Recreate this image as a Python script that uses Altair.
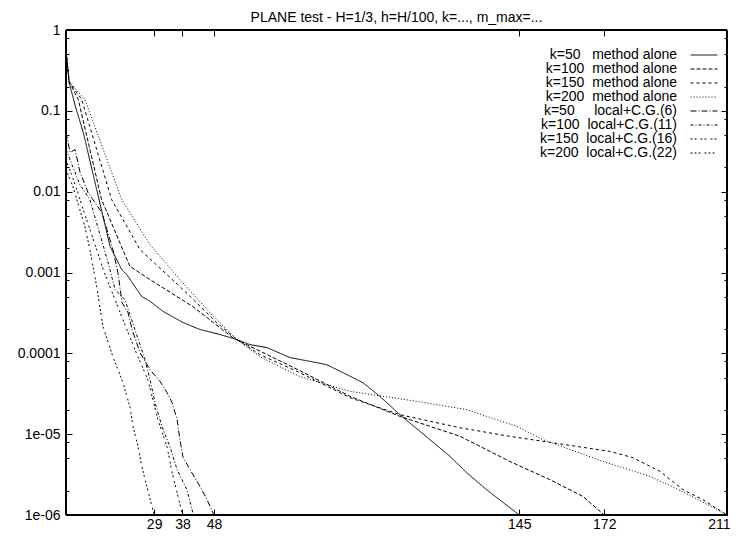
import altair as alt
import pandas as pd

TITLE = "PLANE test - H=1/3, h=H/100, k=..., m_max=..."
FONT = "Liberation Sans"

# axis ranges and ticks
x_domain = [1, 211]
y_domain = [1e-6, 1.0]
x_ticks = [29, 38, 48, 145, 172, 211]
y_ticks = [1e-6, 1e-5, 1e-4, 1e-3, 1e-2, 1e-1, 1.0]
y_tick_labels = ["1e-06", "1e-05", "0.0001", "0.001", "0.01", "0.1", "1"]
y_minor = [m * 10.0 ** e for e in range(-6, 0) for m in (2, 5, 8)]

series_labels = [
    "k=50\u00a0\u00a0\u00a0method alone",
    "k=100\u00a0\u00a0method alone",
    "k=150\u00a0\u00a0method alone",
    "k=200\u00a0\u00a0method alone",
    "k=50\u00a0\u00a0\u00a0\u00a0\u00a0local+C.G.(6)",
    "k=100\u00a0\u00a0local+C.G.(11)",
    "k=150\u00a0\u00a0local+C.G.(16)",
    "k=200\u00a0\u00a0local+C.G.(22)",
]
dash_styles = [[1, 0], [4, 2], [3, 3], [1, 2], [6, 2, 1, 2], [3, 2, 1, 2], [2, 2, 2, 4], [2, 2, 2, 2, 2, 4]]

# k=50 method alone
m50_x = [1, 2, 4, 6.5, 10.75, 15, 18.7, 20.3, 25, 27.7, 31.8, 38.2, 43.6, 49.9, 55.2, 59.5, 64.8,
         72.2, 78.5, 83.8, 89, 95.3, 100.7, 107.1, 113.5, 123, 128.3, 134.6, 145]
m50_y = [0.55, 0.224, 0.113, 0.0539, 0.0106, 0.00211, 1.086e-3, 9.42e-4, 5.08e-4, 4.40e-4, 3.31e-4,
         2.40e-4, 1.97e-4, 1.71e-4, 1.48e-4, 1.28e-4, 1.18e-4, 8.85e-5, 7.96e-5, 7.25e-5, 5.77e-5,
         4.34e-5, 2.94e-5, 1.74e-5, 1.08e-5, 5.31e-6, 3.34e-6, 2.06e-6, 1.0e-6]

# k=100 method alone
m100_x = [1, 2, 4.9, 12.3, 21.3, 27.7, 41.3, 54, 59.5, 75.3, 91.2, 107.1, 126.2, 142, 154.7, 165.2, 172]
m100_y = [0.55, 0.23, 0.138, 0.00798, 1.19e-3, 8.17e-4, 3.79e-4, 1.56e-4, 1.22e-4, 6.11e-5, 2.94e-5,
          1.66e-5, 9.4e-6, 4.6e-6, 2.74e-6, 1.70e-6, 1.0e-6]

# k=150 method alone
m150_x = [1, 2, 6, 15.5, 24.5, 38.2, 48.9, 55.3, 62.6, 75.3, 91.2, 107.1, 126.2, 142, 154.7, 173.8,
          181.1, 189.7, 197, 203.3, 211]
m150_y = [0.55, 0.23, 0.138, 0.00798, 1.92e-3, 6.14e-4, 2.40e-4, 1.48e-4, 9.64e-5, 5.77e-5, 2.83e-5,
          1.74e-5, 1.20e-5, 9.4e-6, 7.92e-6, 6.12e-6, 5.12e-6, 3.47e-6, 2.06e-6, 1.55e-6, 1.0e-6]

# k=200 method alone
m200_x = [1, 2, 7, 18.7, 27.7, 37.2, 46.7, 55.3, 62.6, 75.3, 91.2, 112.4, 128.3, 144.2, 152.5,
          171.6, 186.5, 197, 209.7, 211]
m200_y = [0.58, 0.23, 0.138, 0.00798, 2.21e-3, 8.17e-4, 3.19e-4, 1.48e-4, 9.1e-5, 5.15e-5, 3.39e-5,
          2.55e-5, 2.01e-5, 1.25e-5, 8.55e-6, 4.6e-6, 3.01e-6, 1.94e-6, 1.07e-6, 1.0e-6]

# k=50 local+C.G.(6)
l50_x = [1, 2.3, 3.9, 5.4, 8, 10.2, 12.4, 14, 15.9, 17.5, 18.8, 20.7, 22, 24.5, 27.7, 30.9, 33.1,
         34.7, 36.3, 37.2, 38.2, 40.4, 43.6, 45.8, 48]
l50_y = [0.0539, 0.0305, 0.0332, 0.0177, 0.00975, 0.00733, 0.00551, 0.0034, 0.00192, 9.98e-4,
         4.24e-4, 3.19e-4, 1.97e-4, 1.02e-4, 6.29e-5, 4.47e-5, 3.27e-5, 2.45e-5, 1.51e-5, 8.55e-6,
         5.12e-6, 3.64e-6, 2.24e-6, 1.55e-6, 1.0e-6]

# k=100 local+C.G.(11)
l100_x = [1, 2.9, 5.4, 8.6, 11.8, 14.3, 16.6, 19.7, 22.9, 26.1, 27.7, 29.3, 31.5, 34, 36.3, 39.4, 41.5]
l100_y = [0.0332, 0.0216, 0.01225, 0.00798, 0.00294, 1.36e-3, 6.14e-4, 4.62e-4, 1.97e-4, 8.36e-5,
          4.73e-5, 2.45e-5, 1.24e-5, 7.0e-6, 3.64e-6, 2.06e-6, 1.0e-6]

# k=150 local+C.G.(16)
l150_x = [1, 3.9, 7, 10.2, 13.4, 16.6, 19.7, 22.9, 27, 28.6, 30.2, 33.1, 34.7, 36.3, 38]
l150_y = [0.0250, 0.01225, 0.00521, 0.00221, 9.42e-4, 4.62e-4, 2.27e-4, 1.11e-4, 4.73e-5, 2.67e-5,
          1.51e-5, 7.0e-6, 3.34e-6, 1.89e-6, 1.0e-6]

# k=200 local+C.G.(22)
l200_x = [1, 3.2, 7, 8.6, 10.75, 12.75, 15.9, 19.1, 21.3, 22.3, 23.9, 25.1, 26.7, 29]
l200_y = [0.0188, 0.01156, 0.0037, 0.00192, 6.7e-4, 2.14e-4, 9.1e-5, 4.34e-5, 2.19e-5, 1.24e-5,
          7.0e-6, 3.96e-6, 2.24e-6, 1.0e-6]

all_x = [m50_x, m100_x, m150_x, m200_x, l50_x, l100_x, l150_x, l200_x]
all_y = [m50_y, m100_y, m150_y, m200_y, l50_y, l100_y, l150_y, l200_y]

rows = []
for name, xs, ys in zip(series_labels, all_x, all_y):
    for xv, yv in zip(xs, ys):
        rows.append({"series": name, "x": xv, "y": yv})
df = pd.DataFrame(rows)

# one point per series: only feeds the legend of line samples (draws nothing)
key_df = pd.DataFrame({"series": series_labels, "x": [xs[-1] for xs in all_x],
                       "y": [ys[-1] for ys in all_y]})

W, H = 661, 485
xscale = alt.Scale(domain=x_domain, nice=False, zero=False)
yscale = alt.Scale(type="log", domain=y_domain, nice=False)
dash_scale = alt.Scale(domain=series_labels, range=dash_styles)

label_expr = ""
for v, lab in zip(y_ticks, y_tick_labels):
    label_expr += f"datum.value < {v * 1.5:g} ? '{lab}' : "
label_expr += "''"

common_legend = dict(title=None, orient="none", symbolType="stroke", symbolSize=729,
                     symbolStrokeWidth=1, symbolStrokeColor="black", labelAlign="right",
                     labelFontSize=14, labelFont=FONT, labelLimit=500, rowPadding=0,
                     clipHeight=14, padding=0)

lines = alt.Chart(df).mark_line(color="black", strokeWidth=1, clip=True).encode(
    x=alt.X("x:Q", scale=xscale, title=None,
            axis=alt.Axis(orient="bottom", values=x_ticks, ticks=False, domain=False, grid=False,
                          labelPadding=2, labelFontSize=14, labelFont=FONT, labelColor="black",
                          format="d", labelFlush=True, labelFlushOffset=3)),
    y=alt.Y("y:Q", scale=yscale, title=None,
            axis=alt.Axis(orient="left", values=y_ticks, labelExpr=label_expr, ticks=False,
                          domain=False, grid=False, labelPadding=6, labelFontSize=14,
                          labelFont=FONT, labelColor="black", labelFlush=False)),
    strokeDash=alt.StrokeDash(
        "series:N", scale=dash_scale,
        legend=alt.Legend(legendX=579, legendY=18, symbolOpacity=0, labelColor="black",
                          **common_legend),
    ),
)

keys = alt.Chart(key_df).mark_line(color="black", strokeWidth=1).encode(
    x=alt.X("x:Q", scale=xscale, title=None, axis=None),
    y=alt.Y("y:Q", scale=yscale, title=None, axis=None),
    strokeDash=alt.StrokeDash(
        "series:N", scale=dash_scale,
        legend=alt.Legend(legendX=624, legendY=18, labelExpr="' '", labelColor="white",
                          **common_legend),
    ),
)

# plot frame: four rules along the axis domains
hdf = pd.DataFrame({"x": [x_domain[0]] * 2, "x2": [x_domain[1]] * 2, "y": y_domain})
vdf = pd.DataFrame({"x": x_domain, "y": [y_domain[0]] * 2, "y2": [y_domain[1]] * 2})
frame_h = alt.Chart(hdf).mark_rule(color="black", strokeWidth=2).encode(
    x=alt.X("x:Q", scale=xscale, title=None, axis=None),
    x2="x2:Q",
    y=alt.Y("y:Q", scale=yscale, title=None, axis=None),
)
frame_v = alt.Chart(vdf).mark_rule(color="black", strokeWidth=2).encode(
    x=alt.X("x:Q", scale=xscale, title=None, axis=None),
    y=alt.Y("y:Q", scale=yscale, title=None, axis=None),
    y2="y2:Q",
)

dummy = pd.DataFrame({"x": [1], "y": [1.0]})


def tick_layer(xorient, yorient, yvals, size, with_x=True, domain=False):
    base = alt.Chart(dummy).mark_point(opacity=0)
    if with_x:
        xenc = alt.X("x:Q", scale=xscale, title=None,
                     axis=alt.Axis(orient=xorient, offset=-H, values=x_ticks, labels=False,
                                   domain=domain, domainColor="black", domainWidth=1,
                                   grid=False, ticks=True, tickSize=6,
                                   tickColor="black", tickWidth=1))
    else:
        xenc = alt.X("x:Q", scale=xscale, title=None, axis=None)
    yenc = alt.Y("y:Q", scale=yscale, title=None,
                 axis=alt.Axis(orient=yorient, offset=-W, values=yvals, labels=False,
                               domain=domain, domainColor="black", domainWidth=1,
                               grid=False, ticks=True, tickSize=size,
                               tickColor="black", tickWidth=1))
    return base.encode(x=xenc, y=yenc)


t1 = tick_layer("top", "right", y_ticks, 6, domain=True)
t2 = tick_layer("bottom", "left", y_ticks, 6, domain=True)
t3 = tick_layer("top", "right", y_minor, 3, with_x=False)
t4 = tick_layer("bottom", "left", y_minor, 3, with_x=False)

chart = alt.layer(lines, keys, t1, t2, t3, t4, frame_h, frame_v).resolve_axis(
    x="independent", y="independent"
).resolve_scale(strokeDash="independent").properties(
    width=W, height=H,
    autosize=alt.AutoSizeParams(type="none"),
    padding={"left": 58, "top": 22, "right": 3, "bottom": 15},
    background="white",
    title=alt.TitleParams(TITLE, fontSize=14, font=FONT, fontWeight="normal", color="black",
                          anchor="middle", baseline="alphabetic", offset=-13, frame="group"),
).configure_view(stroke="black", strokeWidth=1)

chart.save("out.html", embed_options={"renderer": "svg", "actions": False})
